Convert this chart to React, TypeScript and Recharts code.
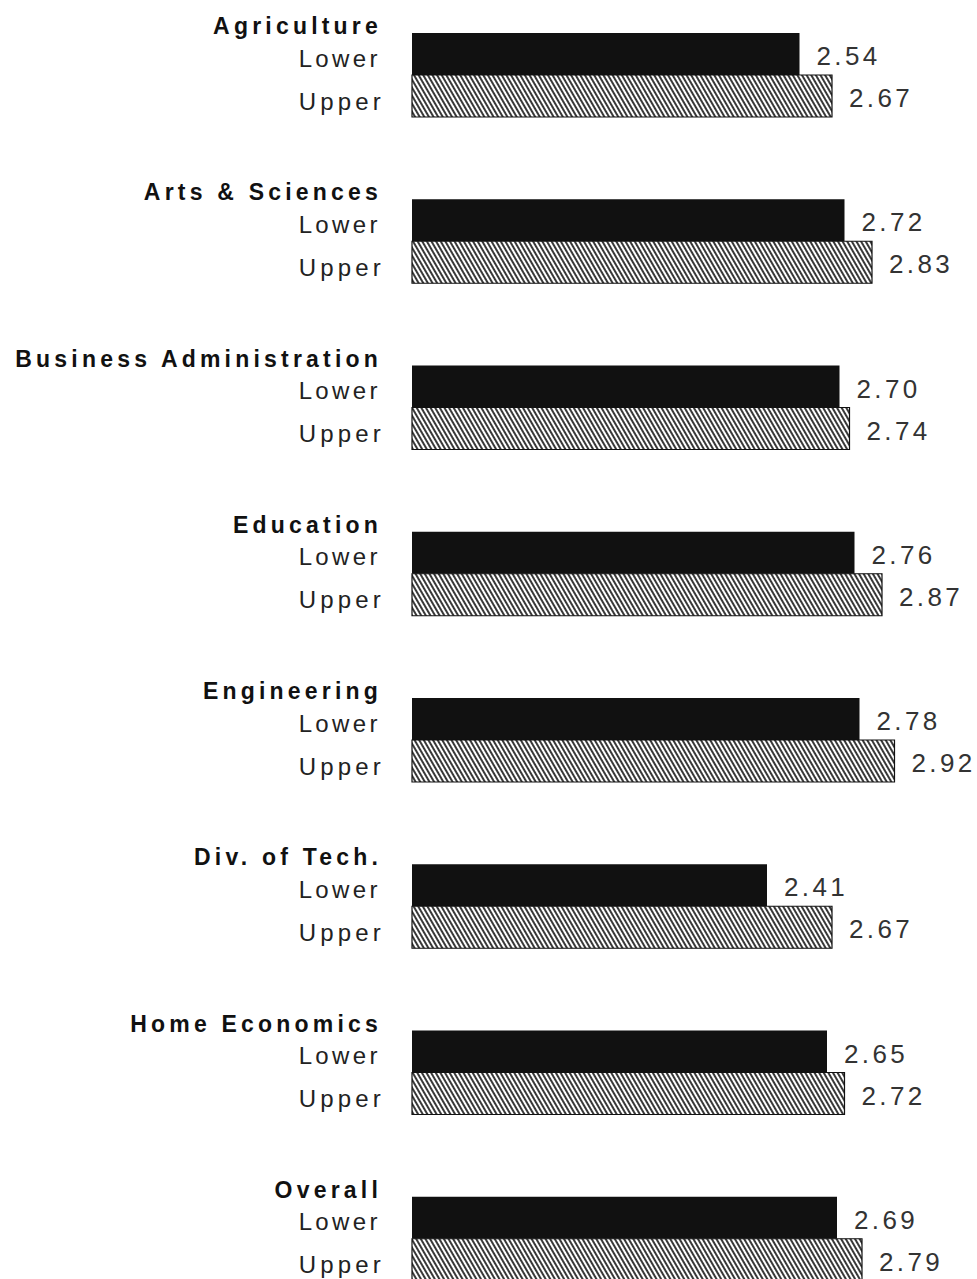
import { BarChart, Bar, XAxis, YAxis, LabelList } from 'recharts'

const colleges = [
  'Agriculture',
  'Arts & Sciences',
  'Business Administration',
  'Education',
  'Engineering',
  'Div. of Tech.',
  'Home Economics',
  'Overall',
]
const lowerGpa = [2.54, 2.72, 2.7, 2.76, 2.78, 2.41, 2.65, 2.69]
const upperGpa = [2.67, 2.83, 2.74, 2.87, 2.92, 2.67, 2.72, 2.79]

const FONT = '"Liberation Sans", Arial, Helvetica, sans-serif'

const data = colleges.map((name, i) => ({
  name,
  lower: lowerGpa[i],
  upper: upperGpa[i],
}))

// college name on top, then the two class rows
const CollegeTick = ({ y, payload }: any) => (
  <g fontFamily={FONT}>
    <text
      x={382}
      y={y - 49}
      textAnchor="end"
      dominantBaseline="central"
      fontSize={23}
      fontWeight="bold"
      letterSpacing={4.2}
      fill="#111"
    >
      {payload.value}
    </text>
    <text
      x={381}
      y={y - 17}
      textAnchor="end"
      dominantBaseline="central"
      fontSize={24}
      letterSpacing={3.4}
      fill="#222"
    >
      Lower
    </text>
    <text
      x={385}
      y={y + 26}
      textAnchor="end"
      dominantBaseline="central"
      fontSize={24}
      letterSpacing={4.2}
      fill="#222"
    >
      Upper
    </text>
  </g>
)

const ValueLabel = (props: any) => {
  const { x, y, width, height, value } = props
  return (
    <text
      x={x + width + 17}
      y={y + height / 2 + 2}
      dominantBaseline="central"
      fontFamily={FONT}
      fontSize={26}
      letterSpacing={3.4}
      fill="#333"
    >
      {Number(value).toFixed(2)}
    </text>
  )
}

export default function App() {
  return (
    <div
      style={{
        position: 'fixed',
        left: 0,
        top: -8,
        width: 977,
        height: 1287,
        overflow: 'hidden',
        background: '#fff',
      }}
    >
      <BarChart
        width={977}
        height={1330}
        data={data}
        layout="vertical"
        margin={{ top: 0, right: 0, bottom: 0, left: 0 }}
        barGap={0}
        barSize={42}
      >
        <defs>
          <pattern
            id="hatch"
            patternUnits="userSpaceOnUse"
            width={4}
            height={8}
            patternTransform="rotate(-30)"
          >
            <rect width={4} height={8} fill="#fff" />
            <line x1={1} y1={0} x2={1} y2={8} stroke="#222" strokeWidth={1.8} />
          </pattern>
        </defs>
        <XAxis type="number" domain={[0.99, 3.25]} hide />
        <YAxis
          type="category"
          dataKey="name"
          width={412}
          axisLine={false}
          tickLine={false}
          tick={<CollegeTick />}
        />
        <Bar dataKey="lower" fill="#111" isAnimationActive={false}>
          <LabelList dataKey="lower" content={<ValueLabel />} />
        </Bar>
        <Bar
          dataKey="upper"
          fill="url(#hatch)"
          stroke="#111"
          strokeWidth={1.2}
          isAnimationActive={false}
        >
          <LabelList dataKey="upper" content={<ValueLabel />} />
        </Bar>
      </BarChart>
    </div>
  )
}
